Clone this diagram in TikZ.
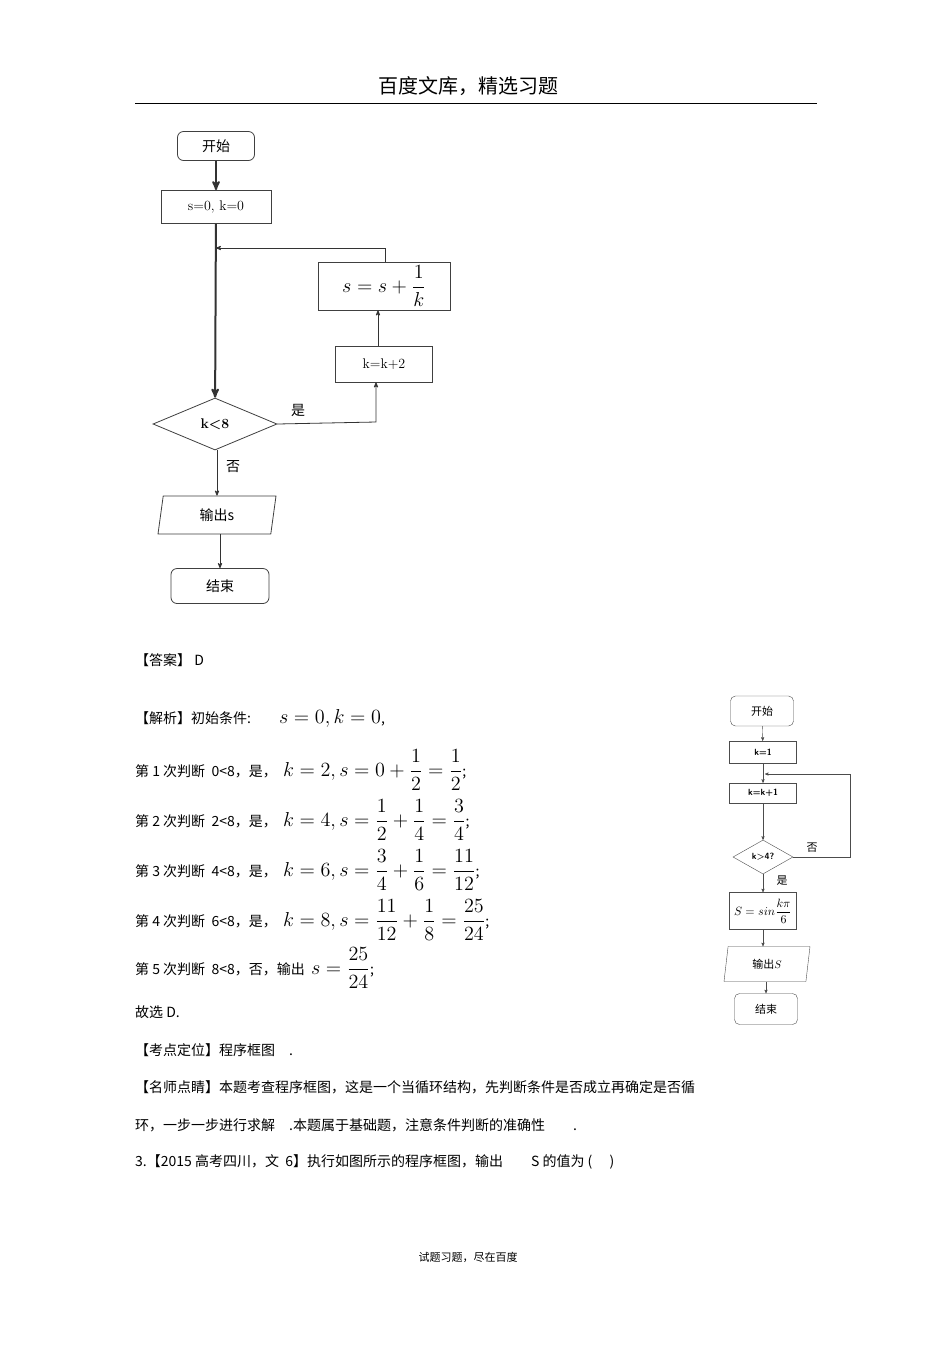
\documentclass[tikz,border=0pt]{standalone}
\usepackage{amsmath}
\usepackage{graphicx}
\usepackage{fontspec}
\setmainfont{Liberation Sans}
\newfontfamily\cjk{Noto Sans CJK SC}
\newfontfamily\lmfont{Latin Modern Roman}
\newcommand{\bigformula}[1]{\scalebox{1.4}{$#1$}}
\usetikzlibrary{arrows,shapes.geometric,positioning}

\begin{document}
\begin{tikzpicture}[x=1pt,y=-1pt,>=stealth',
	startstop/.style={rectangle,rounded corners=6pt,draw=black!75,thick,font=\cjk\fontsize{14}{16}\selectfont},
	procbox/.style={rectangle,draw=black!75,thick,font=\lmfont\fontsize{14}{16}\selectfont,inner sep=0pt},
	decision/.style={diamond,draw=black!75,thick,aspect=2.4,inner sep=0pt,font=\lmfont\bfseries\fontsize{14}{16}\selectfont},
	iobox/.style={trapezium,trapezium left angle=68,trapezium right angle=112,trapezium stretches body,
		draw=black!75,thick,inner sep=0pt,font=\cjk\fontsize{14}{16}\selectfont},
	small start/.style={rectangle,rounded corners=5pt,draw=black!70,font=\cjk\fontsize{11}{13}\selectfont},
	small box/.style={rectangle,draw=black!70,inner sep=0pt,font=\sffamily\bfseries\fontsize{9}{11}\selectfont},
	small io/.style={trapezium,trapezium left angle=68,trapezium right angle=112,trapezium stretches body,
		draw=black!70,inner sep=0pt,font=\cjk\fontsize{11}{13}\selectfont},
	line/.style={->,thick,black!80},
	main line/.style={->,line width=2pt,black!80},
	thin line/.style={->,black!70},
	txt/.style={anchor=west,inner sep=0pt,font=\cjk\fontsize{14}{16}\selectfont}]
\useasboundingbox[fill=white] (0,0) rectangle (950,1345);

% page header
\node[font=\cjk\fontsize{20}{22}\selectfont] (header) at (468,86) {百度文库，精选习题};
\draw[thick] (135,103) -- (817,103);

% first flow chart
\node[startstop,minimum width=77,minimum height=29] (start) at (216,146) {开始};
\node[procbox,minimum width=110,minimum height=33] (init) at (216,207) {s=0, k=0};
\node[procbox,minimum width=132,minimum height=48] (sum) at (384,286) {\bigformula{s=s+\dfrac{1}{k}}};
\node[procbox,minimum width=97,minimum height=36] (step) at (384,364) {k=k+2};
\node[decision,minimum width=124,minimum height=52] (cond) at (215,424) {k<8};
\node[iobox,minimum width=118,minimum height=38] (out) at (217,515) {输出s};
\node[startstop,minimum width=98,minimum height=35] (stop) at (220,586) {结束};

\coordinate (join) at (216,248);
\coordinate (turn) at (376,422);

\draw[main line] (start) -- (init);
\draw[main line] (init) -- (cond);
\draw[line] (cond.east) -- (turn) -- (turn |- step.south);
\draw[line] (step.north -| 378,0) -- (sum.south -| 378,0);
\draw[line] (sum.north -| 385,0) -- (385,248) -- (join);
\draw[line] (cond.south -| 217,0) -- (out.north -| 217,0);
\draw[line] (out.south -| 220,0) -- (stop);
\node[font=\cjk\fontsize{14}{16}\selectfont] at (298,410) {是};
\node[font=\cjk\fontsize{14}{16}\selectfont] at (233,467) {否};

% answer text
\node[txt] (ans) at (135,660) {【答案】 D};
\node[txt] (ana) at (135,718) {【解析】初始条件:\qquad \bigformula{s=0,k=0},};
\node[txt] (l1) at (135,770) {第 1 次判断\ \ 0<8，是，\ \ \bigformula{k=2,s=0+\dfrac{1}{2}=\dfrac{1}{2}};};
\node[txt] (l2) at (135,820) {第 2 次判断\ \ 2<8，是，\ \ \bigformula{k=4,s=\dfrac{1}{2}+\dfrac{1}{4}=\dfrac{3}{4}};};
\node[txt] (l3) at (135,870) {第 3 次判断\ \ 4<8，是，\ \ \bigformula{k=6,s=\dfrac{3}{4}+\dfrac{1}{6}=\dfrac{11}{12}};};
\node[txt] (l4) at (135,920) {第 4 次判断\ \ 6<8，是，\ \ \bigformula{k=8,s=\dfrac{11}{12}+\dfrac{1}{8}=\dfrac{25}{24}};};
\node[txt] (l5) at (135,968) {第 5 次判断\ \ 8<8，否，输出\ \ \bigformula{s=\dfrac{25}{24}};};
\node[txt] (sel) at (135,1012) {故选 D.};
\node[txt] (pos) at (135,1050) {【考点定位】程序框图\quad .};
\node[txt] (tip1) at (135,1087) {【名师点睛】本题考查程序框图，这是一个当循环结构，先判断条件是否成立再确定是否循};
\node[txt] (tip2) at (135,1125) {环，一步一步进行求解\quad .本题属于基础题，注意条件判断的准确性\qquad .};
\node[txt] (q3) at (135,1162) {3.【2015 高考四川，文\ \ 6】执行如图所示的程序框图，输出\qquad S 的值为 (\quad\ )};

% second flow chart
\node[small start,minimum width=63,minimum height=30] (start2) at (762,711) {开始};
\node[small box,minimum width=67,minimum height=22] (init2) at (763,752) {k=1};
\node[small box,minimum width=67,minimum height=20] (inc2) at (763,793) {k=k+1};
\node[decision,thin,draw=black!70,minimum width=60,minimum height=34,font=\sffamily\bfseries\fontsize{9}{11}\selectfont] (cond2) at (763,857) {k>4?};
\node[small box,minimum width=67,minimum height=37,font=\fontsize{10}{12}\selectfont] (calc2) at (763,911) {\scalebox{1.2}{$S=sin\dfrac{k\pi}{6}$}};
\node[small io,minimum width=86,minimum height=35] (out2) at (767,964) {输出$S$};
\node[small start,minimum width=63,minimum height=31] (stop2) at (766,1009) {结束};

\coordinate (join2) at (765,774);
\coordinate (back2) at (850,857);

\draw[thin line] (start2) -- (init2);
\draw[thin line] (init2) -- (inc2);
\draw[thin line] (inc2) -- (cond2);
\draw[thin line] (cond2.east) -- (back2) -- (back2 |- join2) -- (join2);
\draw[thin line] (cond2) -- (calc2);
\draw[thin line] (calc2) -- (calc2 |- out2.north);
\draw[thin line] (out2.south -| 766,0) -- (stop2);
\node[font=\cjk\fontsize{11}{13}\selectfont] at (812,848) {否};
\node[font=\cjk\fontsize{11}{13}\selectfont] at (782,881) {是};

% footer
\node[font=\cjk\fontsize{11}{13}\selectfont] (footer) at (468,1257) {试题习题，尽在百度};
\end{tikzpicture}
\end{document}
